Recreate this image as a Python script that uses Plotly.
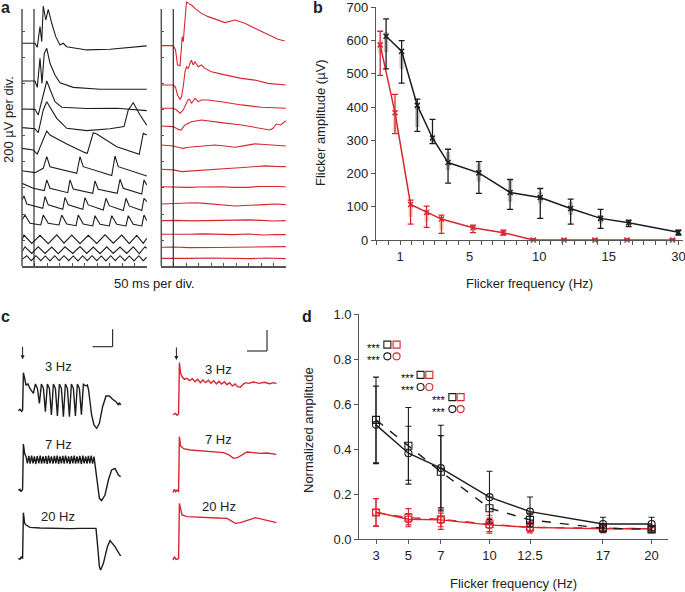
import plotly.graph_objects as go

# ---------------- panel a : flicker traces (ms, uV relative to each trace baseline) ----------------
A_CTRL_T = [
    [0, 52, 61, 72, 79, 85, 95, 105, 119, 135, 152, 165, 179, 259, 352, 445, 499],
    [0, 52, 61, 72, 80, 89, 99, 112, 132, 152, 205, 312, 499],
    [0, 52, 65, 83, 99, 112, 132, 159, 259, 379, 499],
    [0, 52, 65, 85, 99, 112, 139, 179, 259, 352, 408, 425, 445, 472, 499],
    [0, 45, 61, 85, 99, 112, 179, 252, 261, 285, 299, 379, 459, 469, 485, 499],
    [0, 52, 85, 99, 112, 219, 232, 245, 359, 372, 385, 499],
    [0, 45, 89, 99, 112, 183, 192, 205, 283, 292, 305, 381, 392, 405, 479, 488, 499],
    [0, 8, 19, 83, 92, 105, 163, 172, 185, 243, 252, 265, 325, 336, 349, 405, 416, 429, 479, 488, 499],
    [0, 12, 32, 75, 85, 105, 148, 159, 179, 216, 225, 245, 283, 292, 312, 349, 359, 379, 416, 425, 445,
     479, 488, 499],
    [0, 8, 39, 72, 105, 139, 168, 199, 232, 265, 299, 332, 365, 399, 429, 459, 485, 499],
    [0, 12, 39, 65, 92, 119, 145, 172, 203, 232, 259, 285, 312, 339, 365, 392, 419, 445, 469, 492, 499],
    [0, 19, 37, 56, 75, 93, 112, 131, 149, 168, 187, 205, 224, 243, 261, 280, 299, 317, 336, 355, 373,
     392, 411, 429, 448, 467, 485, 499],
]
A_CTRL_V = [
    [0, 0, -31, 128, 13, 287, 179, 261, 154, 51, -13, 0, -26, -51, -46, -33, -20],
    [0, 0, -49, 174, -18, 212, 251, 136, 46, -13, -49, -64, -64],
    [0, -3, -46, 95, 215, 151, 56, 13, 3, 5, -13],
    [0, -8, -38, 136, 200, 156, 72, -5, -23, -8, 8, 136, 192, 97, 20],
    [0, -13, -44, 64, 133, 102, 33, -33, -38, 120, 110, 13, -38, -46, 115, 102],
    [0, -15, 18, 108, 31, -20, 108, 31, -38, 113, 31, -41],
    [0, -38, -56, 26, -38, -72, 26, -44, -77, 18, -46, -77, 31, -38, -82, 26, -13],
    [0, 31, -31, -64, 26, -38, -72, 20, -38, -72, 18, -38, -77, 13, -44, -82, 13, -46, -82, 13, -13],
    [0, 38, -26, -38, 38, -26, -38, 38, -31, -44, 38, -31, -46, 33, -33, -46, 33, -33, -46, 33, -33,
     -46, 38, -5],
    [0, 38, -26, 36, -28, 40, -24, 38, -28, 36, -26, 40, -24, 38, -28, 36, -26, 13],
    [0, 38, -13, 38, -13, 36, -15, 38, -13, 40, -13, 36, -15, 38, -13, 36, -13, 38, -15, 38, 26],
    [0, 28, -10, 28, -10, 26, -12, 28, -10, 28, -10, 26, -12, 28, -10, 28, -10, 26, -12, 28, -10,
     28, -10, 26, -12, 28, -10, 15],
]
A_CTRL_BASE = [1713, 1423, 1208, 1064, 905, 733, 636, 508, 354, 200, 110, 51]

A_MUT_T = [
    [0, 48, 57, 65, 75, 79, 84, 88, 92, 97, 101, 108, 121, 135, 161, 188, 228, 255, 295, 335, 375,
     428, 468, 495],
    [0, 48, 57, 65, 75, 81, 88, 95, 101, 108, 115, 121, 128, 135, 148, 161, 175, 201, 241, 281, 321,
     375, 428, 499],
    [0, 48, 61, 75, 88, 101, 108, 115, 121, 135, 148, 161, 188, 241, 321, 401, 499],
    [0, 48, 68, 79, 95, 121, 161, 188, 241, 321, 401, 435, 448, 461, 479, 499],
    [0, 48, 70, 88, 110, 135, 175, 215, 255, 295, 335, 375, 400, 428, 460, 499],
    [0, 48, 81, 110, 135, 175, 215, 250, 281, 315, 348, 380, 415, 455, 499],
    [0, 50, 108, 150, 200, 241, 290, 348, 390, 428, 460, 499],
    [0, 68, 100, 135, 175, 215, 255, 295, 335, 375, 415, 455, 499],
    [0, 60, 120, 180, 240, 300, 348, 400, 450, 499],
    [0, 60, 110, 170, 230, 290, 350, 410, 460, 499],
    [0, 50, 110, 170, 230, 290, 350, 410, 460, 499],
    [0, 60, 120, 180, 240, 300, 360, 420, 470, 499],
]
A_MUT_V = [
    [0, 0, -33, -148, -156, -33, 69, 31, 120, 300, 338, 325, 312, 287, 248, 223, 192, 177, 197, 172,
     133, 82, 49, 36],
    [0, 0, -18, -77, -110, -90, -13, 102, 140, 128, 166, 192, 154, 179, 140, 154, 128, 102, 84, 69,
     51, 38, 13, 0],
    [0, 0, -13, -38, -13, 38, 69, 64, 38, 77, 51, 64, 64, 51, 26, 8, 0],
    [0, -5, -26, -31, 8, 33, 46, 41, 26, 8, -18, -31, -18, 15, 8, 41],
    [0, -8, -20, -26, -18, -13, -5, 0, -8, -18, -5, 8, 5, 0, -5, -8],
    [0, -5, -18, -15, -10, -5, 0, 3, 8, 12, 15, 20, 26, 22, 20],
    [0, -3, -5, -2, 0, 0, -5, -5, 2, 5, 2, 0],
    [0, 5, 8, 10, 5, 0, -10, -15, -12, -10, -5, 0, -5],
    [0, 2, -2, 0, 3, 3, 6, 2, -3, 0],
    [0, -3, 0, 3, 0, -3, 2, -5, -2, -3],
    [0, 2, -3, -5, -2, 0, 3, 2, 4, 5],
    [0, -2, 0, 3, 0, -3, -2, 2, 0, -2],
]
A_MUT_BASE = [1695, 1392, 1213, 1077, 931, 744, 610, 477, 349, 244, 144, 59]
A_STIM_MS = 48
A_AXIS_TOP = 1977

# ---------------- panel b : flicker amplitude (uV) ----------------
B_TICK_TEXT = {0: '1', 6: '5', 12: '10', 18: '15', 24: '30'}
B_POS_CTRL = [-1.2, 0.14, 1.49, 2.8, 4.14, 6.8, 9.49, 12.09, 14.71, 17.29, 19.71, 24.0]
B_AMP_CTRL = [613, 568, 405, 307, 233, 202, 143, 128, 95, 65, 52, 23]
B_ERR_CTRL_HI = [665, 600, 424, 363, 273, 236, 182, 155, 123, 92, 60, 30]
B_ERR_CTRL_LO = [515, 472, 327, 290, 171, 140, 92, 65, 48, 35, 40, 15]
B_BOX_CTRL_HI = [625, 562, 400, 312, 265, 230, 180, 145, 115, 75, 60, 30]
B_BOX_CTRL_LO = [565, 515, 340, 290, 210, 175, 115, 110, 75, 50, 42, 15]

B_POS_MUT = [-1.71, -0.43, 0.91, 2.29, 3.57, 6.29, 8.91, 11.49, 14.14, 16.8, 19.57, 23.49]
B_AMP_MUT = [587, 383, 107, 83, 63, 37, 22, 0, 0, 0, 0, 0]
B_ERR_MUT_HI = [628, 438, 120, 102, 75, 45, 30, 3, 3, 3, 3, 3]
B_ERR_MUT_LO = [495, 320, 48, 38, 20, 22, 15, 0, 0, 0, 0, 0]
B_BOX_MUT_HI = [600, 380, 105, 90, 70, 40, 25, 0, 0, 0, 0, 0]
B_BOX_MUT_LO = [560, 325, 70, 55, 30, 32, 18, 0, 0, 0, 0, 0]

# ---------------- panel c : ERG responses (s, mV relative to baseline) ----------------
C_LABELS = ['3 Hz', '7 Hz', '20 Hz']
C_CTRL_T = [
    [0.17, 0.25, 0.33, 0.38, 0.42, 0.48, 0.55, 0.65, 0.75, 0.92, 1.02, 1.12, 1.22, 1.32, 1.42, 1.52,
     1.62, 1.72, 1.82, 1.92, 2.02, 2.12, 2.22, 2.32, 2.42, 2.52, 2.62, 2.72, 2.82, 2.92, 3.02, 3.12,
     3.22, 3.32, 3.42, 3.55, 3.62, 3.68, 3.83, 3.95, 4.08, 4.22, 4.38, 4.55, 4.72, 4.88, 5.05, 5.17,
     5.22, 5.28],
    [0.17, 0.25, 0.3, 0.35, 0.38, 0.42, 0.48, 0.55,
     0.62, 0.69, 0.76, 0.83, 0.90, 0.97, 1.04, 1.11, 1.19, 1.26, 1.33, 1.40, 1.47, 1.54, 1.61, 1.68,
     1.75, 1.82, 1.90, 1.97, 2.04, 2.11, 2.18, 2.25, 2.32, 2.39, 2.46, 2.53, 2.61, 2.68, 2.75, 2.82,
     2.89, 2.96, 3.03, 3.10, 3.17, 3.24, 3.32, 3.39, 3.46, 3.53, 3.60, 3.67, 3.74, 3.81, 3.88, 3.95,
     4.08, 4.22, 4.33, 4.5, 4.67, 4.83, 5.0, 5.17, 5.28],
    [0.17, 0.25, 0.32, 0.38, 0.42, 0.48, 0.55, 0.75, 1.25, 1.75, 2.25, 2.75, 3.25, 3.75, 4.05, 4.12,
     4.22, 4.28, 4.42, 4.62, 4.75, 5.0, 5.22, 5.28],
]
C_CTRL_V = [
    [-0.02, 0.02, -0.04, 0, 1.12, 0.92, 0.75, 0.78, 0.64, 0.5, 0.78, 0.65, 0.2, 0.78, 0.65, -0.05,
     0.78, 0.65, -0.15, 0.78, 0.65, -0.18, 0.78, 0.65, -0.2, 0.78, 0.65, -0.2, 0.78, 0.65, -0.18,
     0.78, 0.65, -0.14, 0.77, 0.72, 0.75, 0.6, -0.15, -0.45, -0.55, -0.4, 0.1, 0.42, 0.42, 0.32,
     0.25, 0.15, 0.22, 0.15],
    [0, 0.02, -0.05, 0, 0.02, 1.38, 1.1, 1.0,
     0.8, 1.02, 0.79, 1.03, 0.8, 1.01, 0.78, 1.02, 0.8, 1.03, 0.79, 1.01, 0.8, 1.02, 0.78, 1.03,
     0.8, 1.01, 0.79, 1.02, 0.8, 1.03, 0.78, 1.01, 0.8, 1.02, 0.79, 1.03, 0.8, 1.01, 0.78, 1.02,
     0.8, 1.03, 0.79, 1.01, 0.8, 1.02, 0.78, 1.03, 0.8, 1.01, 0.79, 1.02, 0.8, 1.03, 0.79, 1.0,
     0.4, -0.25, -0.32, -0.15, 0.3, 0.6, 0.65, 0.45, 0.4],
    [0, -0.03, 0.05, -0.01, 1.37, 1.05, 1.0, 0.93, 0.91, 0.9, 0.91, 0.89, 0.9, 0.89, 0.9, 0.45,
     -0.25, -0.35, -0.15, 0.35, 0.53, 0.35, 0.15, 0.07],
]
C_CTRL_BASE = [5.46, 3.06, 1.01]

C_MUT_T = [
    [0.1, 0.22, 0.3, 0.38, 0.42, 0.48, 0.57, 0.67, 0.8, 0.93, 1.07, 1.2, 1.33, 1.47, 1.6, 1.73, 1.87,
     2.0, 2.13, 2.27, 2.4, 2.53, 2.67, 2.8, 2.93, 3.07, 3.2, 3.33, 3.47, 3.6, 3.73, 3.87, 4.13, 4.4,
     4.67, 4.93, 5.13, 5.27],
    [0.1, 0.17, 0.23, 0.3, 0.38, 0.42, 0.48, 0.63, 0.97, 1.3, 1.63, 1.97, 2.3, 2.63, 2.88, 3.13, 3.33,
     3.55, 3.8, 4.13, 4.47, 4.8, 5.05, 5.27],
    [0.1, 0.17, 0.25, 0.38, 0.42, 0.55, 0.8, 1.3, 1.8, 2.3, 2.8, 2.97, 3.22, 3.47, 3.8, 3.97, 4.22,
     4.63, 4.88, 5.27],
]
C_MUT_V = [
    [-0.02, 0.02, -0.04, 0, 1.54, 1.22, 1.1, 1.04, 1.07, 1.0, 1.06, 0.97, 1.04, 0.94, 1.02, 0.94,
     1.01, 0.92, 1.0, 0.90, 0.98, 0.90, 0.97, 0.88, 0.94, 0.84, 0.90, 0.82, 0.80, 0.89, 0.94, 0.92,
     0.96, 0.92, 0.95, 0.91, 0.94, 0.91],
    [-0.02, 0.07, 0, 0.05, 0, 1.65, 1.37, 1.29, 1.25, 1.23, 1.21, 1.2, 1.19, 1.17, 1.11, 1.0, 1.02,
     1.1, 1.19, 1.17, 1.15, 1.16, 1.14, 1.12],
    [-0.02, 0.08, 0, 0.02, 1.68, 1.33, 1.28, 1.26, 1.25, 1.24, 1.23, 1.16, 1.08, 1.1, 1.18, 1.2, 1.25,
     1.2, 1.16, 1.1],
]
C_MUT_BASE = [5.34, 3.01, 0.98]

# ---------------- panel d : normalized amplitude ----------------
D_FREQ = [3, 5, 7, 10, 12.5, 17, 20]
D_TICK_TEXT = ['3', '5', '7', '10', '12.5', '17', '20']
D_CTRL_SQ = [0.53, 0.415, 0.30, 0.138, 0.086, 0.049, 0.044]
D_CTRL_SQ_ERR = [0.19, 0.17, 0.16, 0.05, 0.03, 0.02, 0.015]
D_CTRL_CI = [0.508, 0.382, 0.316, 0.187, 0.123, 0.068, 0.068]
D_CTRL_CI_ERR = [0.172, 0.12, 0.19, 0.115, 0.065, 0.03, 0.03]
D_MUT_SQ = [0.119, 0.096, 0.089, 0.067, 0.053, 0.049, 0.047]
D_MUT_SQ_ERR = [0.062, 0.04, 0.045, 0.04, 0.025, 0.015, 0.01]
D_MUT_CI = [0.12, 0.089, 0.086, 0.064, 0.053, 0.047, 0.047]
D_MUT_CI_ERR = [0.06, 0.025, 0.03, 0.03, 0.02, 0.012, 0.01]
D_SIG_X_CTRL = [3.70, 5.75, 7.71]
D_SIG_X_MUT = [4.27, 6.29, 8.22]
D_SIG_Y_SQ = [0.864, 0.73, 0.631]
D_SIG_Y_CI = [0.812, 0.676, 0.578]

BLACK = '#1c1c1c'
RED = '#d8262e'
AXIS = '#555555'
FONT = 'Liberation Sans, Arial, sans-serif'
W, H = 685, 592


def dom_x(a, b):
    return [a / W, b / W]


def dom_y(top, bottom):
    return [1 - bottom / H, 1 - top / H]


fig = go.Figure()

# panel a traces
for ts, vs, base in zip(A_CTRL_T, A_CTRL_V, A_CTRL_BASE):
    fig.add_trace(go.Scatter(x=ts, y=[base + v for v in vs], mode='lines',
                             line=dict(color=BLACK, width=1.1), xaxis='x', yaxis='y'))
for ts, vs, base in zip(A_MUT_T, A_MUT_V, A_MUT_BASE):
    fig.add_trace(go.Scatter(x=ts, y=[base + v for v in vs], mode='lines',
                             line=dict(color=RED, width=1.1), xaxis='x2', yaxis='y2'))

# panel b : shaded boxes, then error bars + lines
for pos, lo, hi, col in [(B_POS_CTRL, B_BOX_CTRL_LO, B_BOX_CTRL_HI, '#c4c4c4'),
                         (B_POS_MUT, B_BOX_MUT_LO, B_BOX_MUT_HI, '#f6d2c2')]:
    fig.add_trace(go.Bar(x=pos, y=[h - l for h, l in zip(hi, lo)], base=lo, width=0.38,
                         marker=dict(color=col, line=dict(width=0)), xaxis='x3', yaxis='y3'))
for pos, amp, lo, hi, col in [(B_POS_MUT, B_AMP_MUT, B_ERR_MUT_LO, B_ERR_MUT_HI, RED),
                              (B_POS_CTRL, B_AMP_CTRL, B_ERR_CTRL_LO, B_ERR_CTRL_HI, BLACK)]:
    fig.add_trace(go.Scatter(
        x=pos, y=amp, mode='lines+markers', cliponaxis=False,
        line=dict(color=col, width=1.5),
        marker=dict(symbol='x-thin', size=5, line=dict(color=col, width=1.5)),
        error_y=dict(type='data', array=[h - a for h, a in zip(hi, amp)],
                     arrayminus=[a - l for a, l in zip(amp, lo)],
                     color=col, thickness=1.3, width=3),
        xaxis='x3', yaxis='y3'))

# panel c traces
for ts, vs, base in zip(C_CTRL_T, C_CTRL_V, C_CTRL_BASE):
    fig.add_trace(go.Scatter(x=ts, y=[base + v for v in vs], mode='lines',
                             line=dict(color=BLACK, width=1.4), xaxis='x4', yaxis='y4'))
for ts, vs, base in zip(C_MUT_T, C_MUT_V, C_MUT_BASE):
    fig.add_trace(go.Scatter(x=ts, y=[base + v for v in vs], mode='lines',
                             line=dict(color=RED, width=1.4), xaxis='x5', yaxis='y5'))

# panel d
for ys, err, col, sym, dash in [(D_MUT_CI, D_MUT_CI_ERR, RED, 'circle-open', 'solid'),
                                (D_MUT_SQ, D_MUT_SQ_ERR, RED, 'square-open', 'dash'),
                                (D_CTRL_SQ, D_CTRL_SQ_ERR, BLACK, 'square-open', 'dash'),
                                (D_CTRL_CI, D_CTRL_CI_ERR, BLACK, 'circle-open', 'solid')]:
    fig.add_trace(go.Scatter(
        x=D_FREQ, y=ys, mode='lines+markers', cliponaxis=False,
        line=dict(color=col, width=1.4, dash=dash),
        marker=dict(symbol=sym, size=7, color=col, line=dict(width=1.1)),
        error_y=dict(type='data', array=err, color=col, thickness=1.1, width=3),
        xaxis='x6', yaxis='y6'))
for xs, col in [(D_SIG_X_CTRL, BLACK), (D_SIG_X_MUT, RED)]:
    fig.add_trace(go.Scatter(x=xs, y=D_SIG_Y_SQ, mode='markers', cliponaxis=False,
                             marker=dict(symbol='square-open', size=7, color=col, line=dict(width=1.1)),
                             xaxis='x6', yaxis='y6'))
    fig.add_trace(go.Scatter(x=xs, y=D_SIG_Y_CI, mode='markers', cliponaxis=False,
                             marker=dict(symbol='circle-open', size=7, color=col, line=dict(width=1.1)),
                             xaxis='x6', yaxis='y6'))

annotations = []
for xs_, ys_ in [(D_SIG_X_CTRL, D_SIG_Y_SQ), (D_SIG_X_CTRL, D_SIG_Y_CI)]:
    for x, y in zip(xs_, ys_):
        annotations.append(dict(x=x - 0.25, y=y - 0.014, xref='x6', yref='y6', text='***',
                                showarrow=False, xanchor='right', yanchor='middle',
                                font=dict(size=11, color='#000000', family=FONT)))


# text labels
def txt(text, x, y, size=13, angle=0, bold=False, color='#222'):
    annotations.append(dict(text='<b>%s</b>' % text if bold else text, x=x / W, y=1 - y / H,
                            xref='paper', yref='paper', showarrow=False, textangle=angle,
                            xanchor='center', yanchor='middle',
                            font=dict(size=size, color=color, family=FONT)))


txt('a', 5, 8, 16, bold=True)
txt('b', 318, 8, 16, bold=True)
txt('c', 5, 316, 16, bold=True)
txt('d', 307, 316, 16, bold=True)
txt('200 µV per div.', 8, 120, 13, angle=-90)
txt('50 ms per div.', 154, 283, 13)
txt('Flicker amplitude (µV)', 320, 123, 13, angle=-90)
txt('Flicker frequency (Hz)', 529, 283, 13)
txt('Normalized amplitude', 308, 430, 13, angle=-90)
txt('Flicker frequency (Hz)', 513, 583, 13)

C_LABEL_Y_CTRL = [6.78, 4.44, 2.28]
C_LABEL_Y_MUT = [6.68, 4.58, 2.58]
for lab, yc, ym in zip(C_LABELS, C_LABEL_Y_CTRL, C_LABEL_Y_MUT):
    annotations.append(dict(text=lab, x=2.17, y=yc, xref='x4', yref='y4', showarrow=False,
                            font=dict(size=13, color='#222', family=FONT)))
    annotations.append(dict(text=lab, x=2.38, y=ym, xref='x5', yref='y5', showarrow=False,
                            font=dict(size=13, color='#222', family=FONT)))
# stimulus onset arrows
for xr, yr, x, y in [('x4', 'y4', 0.38, 6.98), ('x5', 'y5', 0.27, 6.96)]:
    annotations.append(dict(x=x, y=y, xref=xr, yref=yr, ax=0, ay=-14, showarrow=True,
                            arrowhead=2, arrowsize=0.8, arrowwidth=1, arrowcolor=BLACK, text=''))

shapes = []
# panel a axis lines and stimulus markers
for xr, yr in [('x', 'y'), ('x2', 'y2')]:
    shapes.append(dict(type='line', xref=xr + ' domain', x0=0, x1=0, yref=yr, y0=0, y1=A_AXIS_TOP,
                       line=dict(color=AXIS, width=1.5)))
    shapes.append(dict(type='line', xref=xr, x0=A_STIM_MS, x1=A_STIM_MS, yref=yr, y0=0, y1=A_AXIS_TOP,
                       line=dict(color=BLACK, width=1.1)))
# panel c scale bars (1 s horizontal)
for xr, yr, x0, x1, y0, y1 in [('x4', 'y4', 3.88, 4.88, 7.36, 7.88), ('x5', 'y5', 3.8, 4.8, 7.23, 7.86)]:
    shapes.append(dict(type='line', xref=xr, yref=yr, x0=x0, x1=x1, y0=y0, y1=y0,
                       line=dict(color='#333', width=1.2)))
    shapes.append(dict(type='line', xref=xr, yref=yr, x0=x1, x1=x1, y0=y0, y1=y1,
                       line=dict(color='#333', width=1.2)))

tick_font = dict(size=13, color='#222', family=FONT)
a_x = dict(range=[0, 500], showline=True, linecolor=AXIS, linewidth=1.5, ticks='inside',
           ticklen=3, tickcolor=AXIS, tick0=0, dtick=50, showticklabels=False,
           showgrid=False, zeroline=False, automargin=False)
a_y = dict(range=[0, 2046], domain=dom_y(0, 266), showline=False, ticks='inside', ticklen=3,
           tickcolor=AXIS, tickvals=list(range(0, 2000, 200)), showticklabels=False,
           showgrid=False, zeroline=False, automargin=False)
c_ax = dict(visible=False, showgrid=False, zeroline=False, automargin=False)
line_ax = dict(showline=True, linecolor=AXIS, linewidth=1.3, ticks='outside', ticklen=4,
               tickcolor=AXIS, tickfont=tick_font, showgrid=False, zeroline=False, automargin=False,
               ticklabeloverflow='allow')

b_ticks = list(range(-2, 25))
fig.update_layout(
    width=W, height=H, margin=dict(l=0, r=0, t=0, b=0, autoexpand=False),
    paper_bgcolor='white', plot_bgcolor='white', showlegend=False, barmode='overlay',
    font=dict(family=FONT, color='#222'),
    xaxis=dict(a_x, domain=dom_x(22, 147), anchor='y'),
    yaxis=dict(a_y, anchor='x'),
    xaxis2=dict(a_x, domain=dom_x(161.3, 286), anchor='y2'),
    yaxis2=dict(a_y, anchor='x2'),
    xaxis3=dict(line_ax, domain=dom_x(376, 683.3), anchor='y3', range=[-2.07, 24.42],
                tickmode='array', tickvals=b_ticks, ticktext=[B_TICK_TEXT.get(t, '') for t in b_ticks]),
    yaxis3=dict(line_ax, domain=dom_y(7.33, 240), anchor='x3', range=[0, 700], dtick=100),
    xaxis4=dict(c_ax, domain=dom_x(15, 125), anchor='y4', range=[0, 5.5]),
    yaxis4=dict(c_ax, domain=dom_y(320, 592), anchor='x4', range=[0, 8.16]),
    xaxis5=dict(c_ax, domain=dom_x(171, 281), anchor='y5', range=[0, 5.5]),
    yaxis5=dict(c_ax, domain=dom_y(320, 592), anchor='x5', range=[0, 8.16]),
    xaxis6=dict(line_ax, domain=dom_x(359.3, 668.3), anchor='y6', range=[1.97, 21.03],
                tickmode='array', tickvals=D_FREQ, ticktext=D_TICK_TEXT),
    yaxis6=dict(line_ax, domain=dom_y(314, 539.3), anchor='x6', range=[0, 1.0], dtick=0.2,
                tickformat='.1f'),
    annotations=annotations,
    shapes=shapes,
)

# the page body has a default 8px margin; remove it so the figure sits at the window corner
fig.write_html("out.html", config={'displayModeBar': False},
               post_script="document.body.style.margin='0px';")
